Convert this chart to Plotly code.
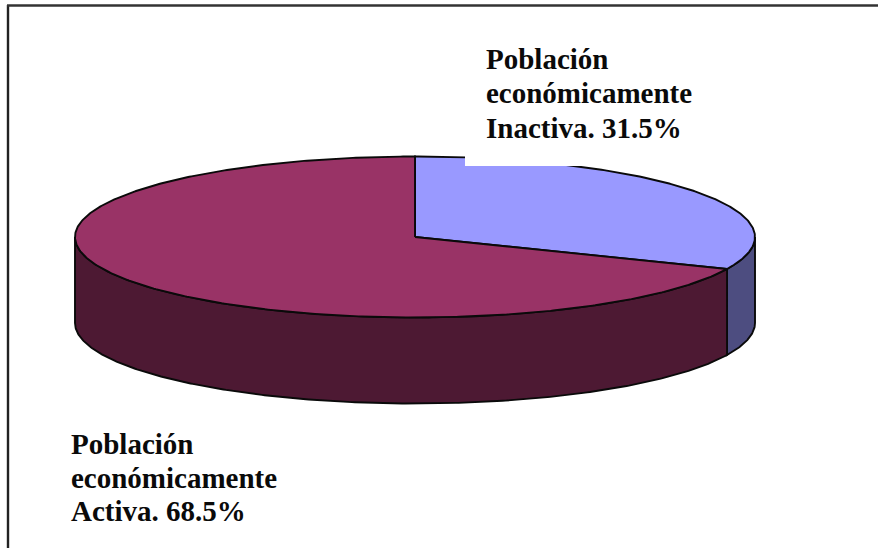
import numpy as np
import plotly.graph_objects as go

# Data
categories = ["Población económicamente Inactiva", "Población económicamente Activa"]
shares = [31.5, 68.5]
label_lines = [
    ["Población", "económicamente", "Inactiva. 31.5%"],
    ["Población", "económicamente", "Activa. 68.5%"],
]

# Pie geometry, in page pixels
W, H = 878, 548
CX, CY, RX, RY, DEPTH = 415, 237, 340, 80.5, 86
TOP = ["#9999FF", "#993366"]
SIDE = ["#4D4D80", "#4D1933"]
EDGE = "#0a0a0a"


def rim(a0, a1, dy=0.0):
    """Points on the ellipse between clockwise angles (deg from 12 o'clock)."""
    a = np.radians(np.linspace(a0, a1, max(int(abs(a1 - a0) * 2), 2)))
    return CX + RX * np.sin(a), CY - RY * np.cos(a) + dy


def poly(fig, x, y, fill):
    fig.add_trace(go.Scatter(
        x=np.r_[x, x[0]], y=np.r_[y, y[0]], mode="lines", fill="toself",
        fillcolor=fill, line=dict(color=EDGE, width=1.9), hoverinfo="skip",
        showlegend=False,
    ))


fig = go.Figure()

boundary = 360 * shares[0] / sum(shares)

# Visible side walls: 90-270 deg is the front half of the rim
for a0, a1, colour in [(90, boundary, SIDE[0]), (boundary, 270, SIDE[1])]:
    tx, ty = rim(a0, a1)
    bx, by = rim(a1, a0, DEPTH)
    poly(fig, np.r_[tx, bx], np.r_[ty, by], colour)

# Top faces
start = 0.0
for share, top in zip(shares, TOP):
    sweep = 360 * share / sum(shares)
    rx, ry = rim(start, start + sweep)
    poly(fig, np.r_[CX, rx], np.r_[CY, ry], top)
    start += sweep

shapes = [
    # White label box that clips the top of the pie
    dict(type="rect", x0=465, x1=760, y0=24, y1=166, fillcolor="white",
         line_width=0, layer="above"),
    # Frame: left and top rules only
    dict(type="line", x0=8, x1=8, y0=5, y1=H, line=dict(color="#222222", width=2.4), layer="above"),
    dict(type="line", x0=7, x1=W, y0=5.5, y1=5.5, line=dict(color="#333333", width=2.4), layer="above"),
]

annotations = []
for lines, left, baselines in [
    (label_lines[0], 484.5, [69, 103, 138]),
    (label_lines[1], 70, [454, 488, 521]),
]:
    for line, base in zip(lines, baselines):
        annotations.append(dict(
            x=left, y=base + 7, text=line, showarrow=False, xanchor="left", yanchor="bottom",
            xref="x", yref="y", align="left", borderpad=0,
            font=dict(family="Liberation Serif", size=29, color="#0a0a0a", weight="bold"),
        ))

fig.update_layout(
    width=W, height=H, autosize=False,
    margin=dict(l=0, r=0, t=0, b=0),
    paper_bgcolor="white", plot_bgcolor="white",
    shapes=shapes, annotations=annotations, showlegend=False,
    xaxis=dict(range=[0, W], visible=False, fixedrange=True),
    yaxis=dict(range=[H, 0], visible=False, fixedrange=True),
)

fig.write_html(
    "out.html",
    config={"displayModeBar": False},
    post_script="document.body.style.margin='0';document.documentElement.style.overflow='hidden';",
)
